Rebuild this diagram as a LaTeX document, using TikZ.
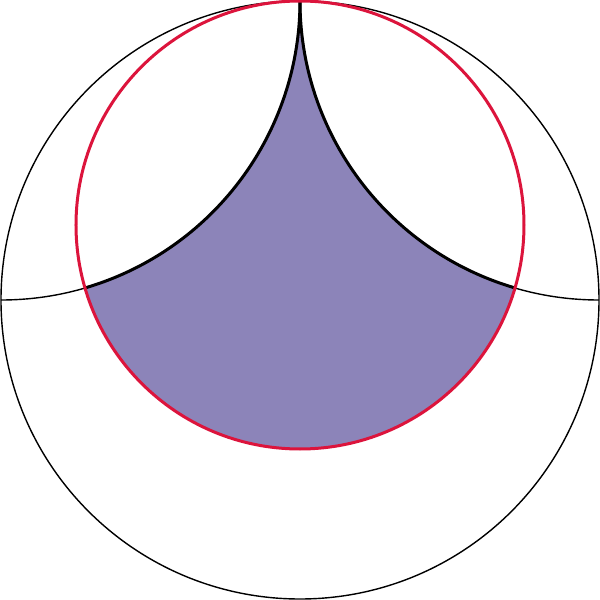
\documentclass[tikz,border=0pt]{standalone}
\definecolor{fillpurple}{RGB}{140,132,185}
\definecolor{redc}{RGB}{220,20,60}
\begin{document}
\begin{tikzpicture}[x=1pt,y=1pt,
  thinline/.style={black,line width=1.4pt},
  thickline/.style={black,line width=3pt},
  redline/.style={redc,line width=3pt}]
\useasboundingbox (-300,-300) rectangle (300,300);
\fill[white] (-300,-300) rectangle (300,300);
\coordinate (O) at (0,0);
\coordinate (C) at (0,75);
\coordinate (T) at (0,299);
\coordinate (A) at (-214.97,12.05);
\coordinate (B) at (214.97,12.05);
\fill[fillpurple] (T) arc[start angle=0, end angle=-73.68, radius=299pt]
  -- (A) arc[start angle=196.32, end angle=343.68, radius=224pt]
  -- (B) arc[start angle=253.68, end angle=180, radius=299pt] -- cycle;
\draw[thinline] (T) arc[start angle=0,end angle=-90,radius=299pt];
\draw[thinline] (T) arc[start angle=180,end angle=270,radius=299pt];
\draw[thickline] (T) arc[start angle=0,end angle=-73.68,radius=299pt];
\draw[thickline] (T) arc[start angle=180,end angle=253.68,radius=299pt];
\draw[thinline] (O) circle[radius=299pt];
\draw[redline] (C) circle[radius=224pt];
\end{tikzpicture}
\end{document}
